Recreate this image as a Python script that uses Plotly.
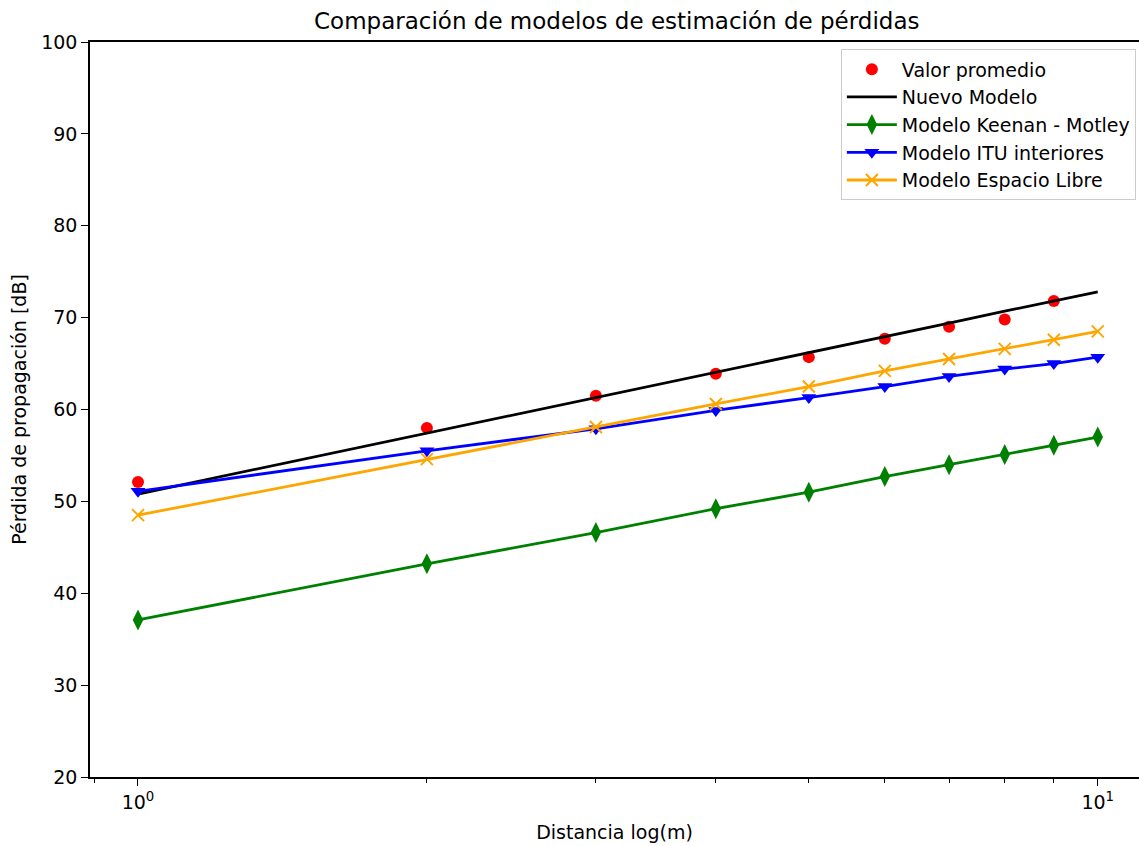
import plotly.graph_objects as go

distancia = [1, 2, 3, 4, 5, 6, 7, 8, 9, 10]
valor_promedio = [52.1, 58.0, 61.5, 63.9, 65.7, 67.7, 69.0, 69.8, 71.8]
nuevo_modelo = [50.8, 57.4, 61.3, 64.0, 66.2, 67.9, 69.4, 70.7, 71.8, 72.8]
keenan_motley = [37.1, 43.2, 46.6, 49.2, 51.0, 52.7, 54.0, 55.1, 56.1, 57.0]
itu_interiores = [51.1, 55.5, 57.9, 59.9, 61.3, 62.5, 63.6, 64.4, 65.0, 65.7]
espacio_libre = [48.5, 54.6, 58.1, 60.6, 62.5, 64.2, 65.5, 66.6, 67.6, 68.5]

y_ticks = [20, 30, 40, 50, 60, 70, 80, 90, 100]
x_major = [1, 10]
x_major_text = ["10<sup>0</sup>", "10<sup>1</sup>"]
x_minor = [0.9, 2, 3, 4, 5, 6, 7, 8, 9]

FONT = "DejaVu Sans"
FS = 19
LW = 2.8

fig = go.Figure()
fig.add_trace(go.Scatter(
    x=distancia[:len(valor_promedio)], y=valor_promedio, mode="markers",
    name="Valor promedio", marker=dict(color="#ff0000", size=12, symbol="circle")))
fig.add_trace(go.Scatter(
    x=distancia, y=nuevo_modelo, mode="lines", name="Nuevo Modelo",
    line=dict(color="black", width=LW)))
fig.add_trace(go.Scatter(
    x=distancia, y=keenan_motley, mode="lines+markers", name="Modelo Keenan - Motley",
    line=dict(color="#008000", width=LW),
    marker=dict(color="#008000", size=15, symbol="diamond-tall")))
fig.add_trace(go.Scatter(
    x=distancia, y=itu_interiores, mode="lines+markers", name="Modelo ITU interiores",
    line=dict(color="#0000ff", width=LW),
    marker=dict(color="#0000ff", size=13, symbol="triangle-down")))
fig.add_trace(go.Scatter(
    x=distancia, y=espacio_libre, mode="lines+markers", name="Modelo Espacio Libre",
    line=dict(color="#ffa500", width=LW),
    marker=dict(color="#ffa500", size=12, symbol="x-thin-open",
                line=dict(color="#ffa500", width=2))))

fig.update_layout(
    width=1139, height=846,
    margin=dict(l=90, r=0, t=42, b=69),
    paper_bgcolor="white", plot_bgcolor="white",
    font=dict(family=FONT, size=FS, color="black"),
    title=dict(text="Comparación de modelos de estimación de pérdidas",
               x=0.5415, xanchor="center", y=0.975, yanchor="middle",
               font=dict(family=FONT, size=23, color="black")),
    legend=dict(x=0.997, xanchor="right", y=0.99, yanchor="top",
                bgcolor="rgba(255,255,255,0.8)", bordercolor="#cccccc", borderwidth=1,
                itemwidth=50,
                font=dict(family=FONT, size=FS, color="black")),
    showlegend=True,
)
fig.update_xaxes(
    type="log", range=[-0.05, 1.043],
    tickmode="array", tickvals=x_major, ticktext=x_major_text,
    ticks="outside", ticklen=7, tickwidth=1.3, tickcolor="black",
    showgrid=False, zeroline=False,
    showline=True, linecolor="black", linewidth=1.5, mirror=True,
    minor=dict(tickmode="array", tickvals=x_minor, ticks="outside", ticklen=4,
               tickcolor="black", tickwidth=1, showgrid=False),
    title=dict(text="Distancia log(m)", font=dict(family=FONT, size=FS), standoff=14),
    tickfont=dict(family=FONT, size=FS, color="black"),
)
fig.update_yaxes(
    range=[20, 100], tickmode="array", tickvals=y_ticks,
    ticks="outside", ticklen=7, tickwidth=1.3, tickcolor="black",
    showgrid=False, zeroline=False,
    showline=True, linecolor="black", linewidth=1.5, mirror=False,
    title=dict(text="Pérdida de propagación [dB]", font=dict(family=FONT, size=FS), standoff=10),
    tickfont=dict(family=FONT, size=FS, color="black"),
)

fig.write_html("out.html", config={"displayModeBar": False},
               post_script="document.body.style.margin='0';document.body.style.overflow='hidden';")
